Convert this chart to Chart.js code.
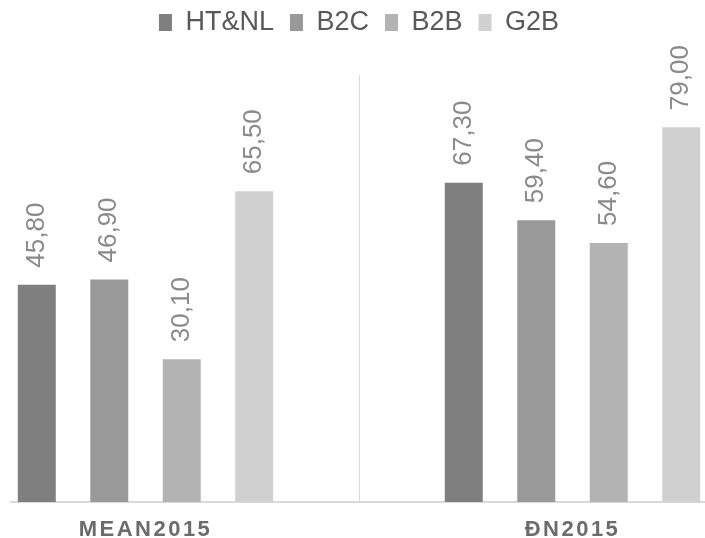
<!DOCTYPE html>
<html>
<head>
<meta charset="utf-8">
<script src="https://cdn.jsdelivr.net/npm/chart.js@4.4.0/dist/chart.umd.min.js"></script>
<style>
  html, body { margin: 0; padding: 0; background: #fff; }
  #frame { position: absolute; left: 10px; top: 0; width: 695px; height: 538px; overflow: hidden; }
  #box { position: absolute; left: -98px; top: 0; width: 894px; height: 538px; }
</style>
</head>
<body>
<div id="frame"><div id="box"><canvas id="grafico"></canvas></div></div>
<script>
var categorias = ["MEAN2015", "ĐN2015"];
var series = ["HT&NL", "B2C", "B2B", "G2B"];
var htnl = [45.8, 67.3];
var b2c = [46.9, 59.4];
var b2b = [30.1, 54.6];
var g2b = [65.5, 79.0];
var cores = ['#7f7f7f', '#999999', '#b3b3b3', '#d0d0d0'];
var eixoMin = 0;
var eixoMax = 90;

var fonte = '"Liberation Sans", Arial, sans-serif';

// espaco extra abaixo da legenda
var margemLegenda = {
    id: 'margemLegenda',
    beforeInit: function (chart) {
        var fitOriginal = chart.legend.fit;
        chart.legend.fit = function () {
            fitOriginal.bind(chart.legend)();
            this.height += 29;
        };
    }
};

// letras espacadas no eixo das categorias
var espacoEixo = {
    id: 'espacoEixo',
    beforeDraw: function (chart) {
        var eixo = chart.scales.x;
        if (eixo._espaco) return;
        var desenhar = eixo.drawLabels;
        eixo.drawLabels = function (area) {
            this.ctx.save();
            this.ctx.letterSpacing = '2.5px';
            desenhar.call(this, area);
            this.ctx.restore();
        };
        eixo._espaco = true;
    }
};

// valores em cima das barras, girados
var rotulos = {
    id: 'rotulos',
    afterDatasetsDraw: function (chart) {
        var ctx = chart.ctx;
        ctx.save();
        ctx.font = '26px ' + fonte;
        ctx.fillStyle = '#8a8a8a';
        ctx.textAlign = 'left';
        ctx.textBaseline = 'middle';
        chart.data.datasets.forEach(function (ds, i) {
            chart.getDatasetMeta(i).data.forEach(function (barra, j) {
                ctx.save();
                ctx.translate(barra.x, barra.y - 17);
                ctx.rotate(-Math.PI / 2);
                ctx.fillText(ds.data[j].toFixed(2).replace('.', ','), 0, 0);
                ctx.restore();
            });
        });
        ctx.restore();
    }
};

var valores = [htnl, b2c, b2b, g2b];
var ctx = document.getElementById("grafico");

var grafico = new Chart(ctx, {
    type: 'bar',
    data: {
        labels: categorias,
        datasets: series.map(function (nome, i) {
            return {
                label: nome,
                data: valores[i],
                backgroundColor: cores[i],
                borderWidth: 0,
                categoryPercentage: 0.679,
                barPercentage: 0.524
            };
        })
    },
    options: {
        responsive: true,
        maintainAspectRatio: false,
        animation: false,
        layout: {
            padding: { top: -7, left: 20, right: 20, bottom: 0 }
        },
        plugins: {
            legend: {
                position: 'top',
                labels: {
                    boxWidth: 13,
                    boxHeight: 17,
                    padding: 16,
                    color: '#595959',
                    font: { size: 27, family: fonte }
                }
            },
            tooltip: { enabled: false }
        },
        scales: {
            x: {
                grid: { offset: true, color: '#d9d9d9', lineWidth: 1, drawTicks: false },
                border: { color: '#d9d9d9', width: 2 },
                ticks: {
                    color: '#6b6b6b',
                    padding: 15,
                    font: { size: 22, weight: 'bold', family: fonte }
                },
                afterFit: function (eixo) { eixo.height = 36; }
            },
            y: {
                display: false,
                min: eixoMin,
                max: eixoMax
            }
        }
    },
    plugins: [margemLegenda, espacoEixo, rotulos]
});
</script>
</body>
</html>
